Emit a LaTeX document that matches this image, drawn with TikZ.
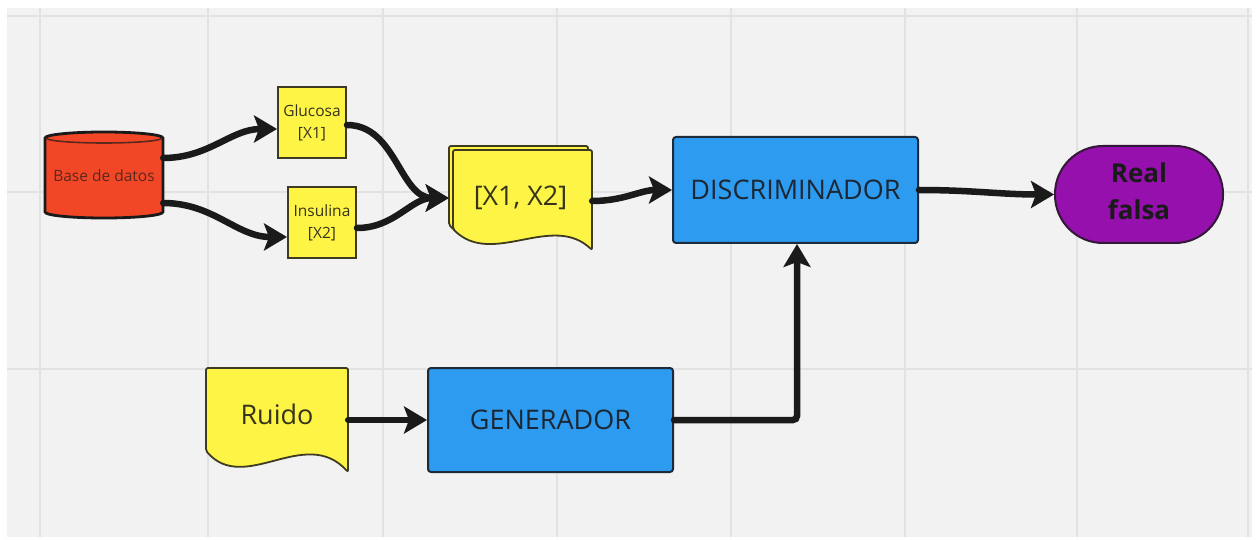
\documentclass[tikz,border=0pt]{standalone}
\usepackage{fontspec}
\setmainfont{Open Sans}
\usetikzlibrary{arrows.meta}

\definecolor{canvas}{HTML}{F2F2F2}
\definecolor{gridc}{HTML}{E2E2E2}
\definecolor{dbred}{HTML}{F24726}
\definecolor{noteyel}{HTML}{FEF445}
\definecolor{boxblue}{HTML}{2D9BF0}
\definecolor{outpurple}{HTML}{9510AC}
\definecolor{ink}{HTML}{1A1A1A}
\definecolor{noteedge}{HTML}{3F3B22}
\definecolor{notetext}{HTML}{35331C}
\definecolor{boxedge}{HTML}{1B2B3A}
\definecolor{boxtext}{HTML}{1C2733}

\begin{document}
\begin{tikzpicture}[x=1pt,y=-1pt,
  flow/.style={line width=6.5pt, draw=ink, line cap=round,
    -{Stealth[length=23pt,width=27pt,inset=5pt]}},
  notebox/.style={draw=noteedge, line width=2pt, fill=noteyel, inner sep=0pt,
    align=center, text=notetext, font=\fontsize{15.5}{22}\selectfont},
  docsheet/.style={draw=noteedge, line width=1.8pt, fill=noteyel, rounded corners=2pt},
  doclabel/.style={inner sep=0pt, text=notetext, font=\fontsize{27}{30}\selectfont},
  procbox/.style={draw=boxedge, line width=2pt, fill=boxblue, rounded corners=3pt,
    inner sep=0pt, text=boxtext, font=\fontsize{27}{30}\selectfont},
  endbox/.style={draw=ink!80!outpurple, line width=2pt, fill=outpurple,
    rounded corners=48pt, inner sep=0pt, text=ink,
    font=\fontsize{26}{35}\bfseries\selectfont},
  dbshape/.style={draw=ink, line width=2.8pt, fill=dbred},
  gridline/.style={draw=gridc, line width=2pt}]

\useasboundingbox (0,0) rectangle (1256,540);
\fill[white] (0,0) rectangle (1256,540);
\fill[canvas] (7,8) rectangle (1252,537);
\foreach \gx in {40,208,383,557,731,905,1077,1248}
  \draw[gridline] (\gx,8) -- (\gx,537);
\foreach \gy in {16,192,369}
  \draw[gridline] (7,\gy) -- (1252,\gy);

% database cylinder
\path[dbshape] (45,138) -- (45,212)
  arc[start angle=180, end angle=0, x radius=59, y radius=6]
  -- (163,138)
  arc[start angle=0, end angle=-180, x radius=59, y radius=6] -- cycle;
\draw[ink!70!dbred, line width=1.6pt] (46,138)
  arc[start angle=180, end angle=0, x radius=58, y radius=5];
\node[minimum width=118pt, minimum height=86pt, inner sep=0pt,
  text=ink!70!dbred, font=\fontsize{15.5}{18}\selectfont] (db) at (104,176) {Base de datos};

% feature cards
\node[notebox, minimum width=68pt, minimum height=71pt] (glu) at (312,123) {Glucosa\\{}[X1]};
\node[notebox, minimum width=68pt, minimum height=71pt] (ins) at (322,223) {Insulina\\{}[X2]};

% stacked document [X1, X2]
\path[docsheet] (449,146) -- (588,146) -- (588,246)
  .. controls (548,208) and (488,264) .. (449,225) -- cycle;
\path[docsheet] (453,150) -- (592,150) -- (592,250)
  .. controls (552,212) and (492,268) .. (453,229) -- cycle;
\node[doclabel, minimum width=143pt, minimum height=104pt] (xx) at (520.5,198) {\raisebox{5pt}{[X1, X2]}};

% noise document
\path[docsheet] (206,368) -- (348,368) -- (348,472)
  .. controls (305,425) and (245,495) .. (206,451) -- cycle;
\node[doclabel, minimum width=142pt, minimum height=104pt] (ruido) at (277,420) {\raisebox{11pt}{Ruido}};

% networks and output
\node[procbox, minimum width=245pt, minimum height=106pt] (disc) at (795.5,190) {DISCRIMINADOR};
\node[procbox, minimum width=245pt, minimum height=104pt] (gen) at (550.5,420) {GENERADOR};
\node[endbox, minimum width=168pt, minimum height=97pt] (rf) at (1139,194.5)
  {\raisebox{4pt}{\begin{tabular}{@{}c@{}}Real\\[2pt]falsa\end{tabular}}};

% connectors
\draw[flow] ([yshift=18pt]db.east) to[out=0,in=180] ([yshift=-6pt]glu.west);
\draw[flow] ([yshift=-27pt]db.east) to[out=0,in=180] ([yshift=-14pt]ins.west);
\draw[flow] ([yshift=-2pt]glu.east) to[out=0,in=180] (xx.west);
\draw[flow] ([yshift=-5pt]ins.east) to[out=0,in=180] (xx.west);
\draw[flow] ([yshift=-3pt]xx.east) to[out=0,in=180] (disc.west);
\draw[flow] (disc.east) to[out=0,in=180] (rf.west);
\draw[flow] (ruido.east) -- (gen.west);
\draw[flow, rounded corners=4pt] (gen.east) -| ([xshift=1.5pt]disc.south);
\end{tikzpicture}
\end{document}
